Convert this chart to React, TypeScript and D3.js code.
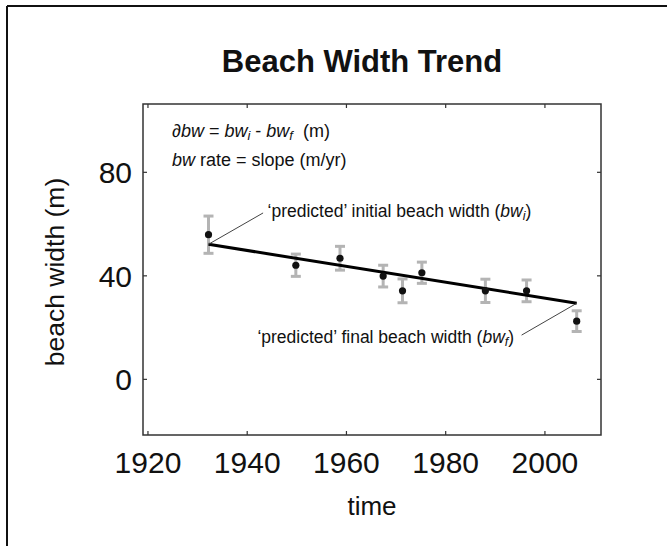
import React from 'react';
import * as d3 from 'd3';

// survey years and measured beach widths (m)
const years = [1932.2, 1949.8, 1958.7, 1967.4, 1971.3, 1975.2, 1988.0, 1996.3, 2006.4];
const widths = [55.9, 44.1, 46.8, 39.9, 34.2, 41.2, 34.2, 34.2, 22.5];
const errors = [7.2, 4.3, 4.6, 4.2, 4.6, 4.1, 4.5, 4.2, 4.0];

// fitted trend line end points
const trendYears = [1932.2, 2006.4];
const trendWidths = [52.2, 29.4];

const xTicks = [1920, 1940, 1960, 1980, 2000];
const yTicks = [0, 40, 80];

const FONT = 'Liberation Sans, Arial, Helvetica, sans-serif';

export default function App() {
  const width = 667,
    height = 546;
  const box = { left: 143, right: 601, top: 104, bottom: 435 };

  const x = d3.scaleLinear().domain([1919, 2011.3]).range([box.left, box.right]);
  const y = d3.scaleLinear().domain([-21.5, 106.4]).range([box.bottom, box.top]);

  const trend = d3
    .line<number>()
    .x((d, i) => x(trendYears[i]))
    .y((d) => y(d));

  // leader lines from the trend ends to the annotations
  const leaders = [
    { from: [trendYears[0], trendWidths[0]], to: [1943.2, 64.3] },
    { from: [trendYears[1], trendWidths[1]], to: [1995.3, 17.1] },
  ];

  const sub = (t: string) => (
    <tspan baselineShift="-22%" fontSize="0.72em" fontStyle="italic">
      {t}
    </tspan>
  );

  return (
    <svg width={width} height={height} style={{ position: 'absolute', left: 0, top: 0 }} fontFamily={FONT}>
      <rect width={width} height={height} fill="#fff" />
      {/* outer frame */}
      <line x1={7} x2={width} y1={6} y2={6} stroke="#111" strokeWidth={2} />
      <line x1={7} x2={7} y1={6} y2={height} stroke="#111" strokeWidth={2} />

      <text x={362} y={72} textAnchor="middle" fontSize={31} fontWeight="bold" fill="#111">
        Beach Width Trend
      </text>

      {/* plot box */}
      <rect
        x={box.left}
        y={box.top}
        width={box.right - box.left}
        height={box.bottom - box.top}
        fill="none"
        stroke="#333"
        strokeWidth={1.5}
      />
      {xTicks.map((t) => (
        <g key={'x' + t}>
          <line x1={x(t)} x2={x(t)} y1={box.bottom} y2={box.bottom - 4} stroke="#333" strokeWidth={1.2} />
          <line x1={x(t)} x2={x(t)} y1={box.top} y2={box.top + 4} stroke="#333" strokeWidth={1.2} />
          <text x={x(t)} y={473} textAnchor="middle" fontSize={30} fill="#111">
            {t}
          </text>
        </g>
      ))}
      {yTicks.map((t) => (
        <g key={'y' + t}>
          <line x1={box.left} x2={box.left + 4} y1={y(t)} y2={y(t)} stroke="#333" strokeWidth={1.2} />
          <line x1={box.right} x2={box.right - 4} y1={y(t)} y2={y(t)} stroke="#333" strokeWidth={1.2} />
          <text x={132} y={y(t) + 11} textAnchor="end" fontSize={30} fill="#111">
            {t}
          </text>
        </g>
      ))}

      <text x={372} y={515} textAnchor="middle" fontSize={26} fill="#111">
        time
      </text>
      <text transform="translate(64,272) rotate(-90)" textAnchor="middle" fontSize={26.5} fill="#111">
        beach width (m)
      </text>

      {/* error bars */}
      {years.map((yr, i) => {
        const cx = x(yr);
        const y0 = y(widths[i] - errors[i]);
        const y1 = y(widths[i] + errors[i]);
        return (
          <g key={'e' + i} stroke="#b4b4b4" strokeWidth={3}>
            <line x1={cx} x2={cx} y1={y0} y2={y1} />
            <line x1={cx - 5} x2={cx + 5} y1={y0} y2={y0} />
            <line x1={cx - 5} x2={cx + 5} y1={y1} y2={y1} />
          </g>
        );
      })}

      <path d={trend(trendWidths) || ''} fill="none" stroke="#000" strokeWidth={3} />

      {years.map((yr, i) => (
        <circle key={'p' + i} cx={x(yr)} cy={y(widths[i])} r={3.6} fill="#111" />
      ))}

      {leaders.map((l, i) => (
        <line
          key={'l' + i}
          x1={x(l.from[0])}
          y1={y(l.from[1])}
          x2={x(l.to[0])}
          y2={y(l.to[1])}
          stroke="#444"
          strokeWidth={1}
        />
      ))}

      <text x={x(1944.1)} y={y(62.7)} fontSize={17.5} fill="#111">
        {'\u2018predicted\u2019 initial beach width ('}
        <tspan fontStyle="italic">bw</tspan>
        {sub('i')}
        <tspan>)</tspan>
      </text>
      <text x={x(1993.8)} y={y(14.05)} textAnchor="end" fontSize={17.5} fill="#111">
        {'\u2018predicted\u2019 final beach width ('}
        <tspan fontStyle="italic">bw</tspan>
        {sub('f')}
        <tspan>)</tspan>
      </text>

      <text x={172} y={137} fontSize={18} fill="#111" style={{ whiteSpace: 'pre' }}>
        <tspan fontStyle="italic">{'\u2202bw'}</tspan>
        {' = '}
        <tspan fontStyle="italic">bw</tspan>
        {sub('i')}
        {' - '}
        <tspan fontStyle="italic">bw</tspan>
        {sub('f')}
        {'  (m)'}
      </text>
      <text x={172} y={166} fontSize={18} fill="#111">
        <tspan fontStyle="italic">bw</tspan>
        {' rate = slope (m/yr)'}
      </text>
    </svg>
  );
}
